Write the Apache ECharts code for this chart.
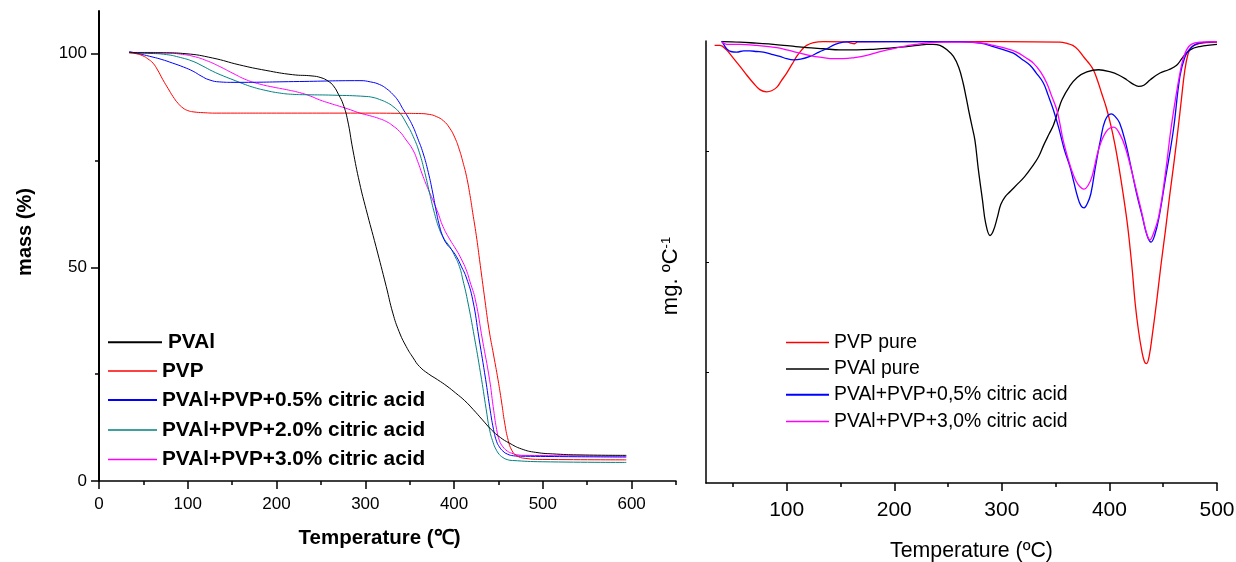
<!DOCTYPE html>
<html><head><meta charset="utf-8">
<script src="https://cdn.jsdelivr.net/npm/echarts@6/dist/echarts.min.js"></script>
<style>html,body{margin:0;padding:0;background:#fff}#c{width:1236px;height:562px}</style>
</head><body><div id="c"></div>
<script>
// ---------- Left panel (TGA) ----------
const tgaNames = ['PVAl', 'PVP', 'PVAl+PVP+0.5% citric acid', 'PVAl+PVP+2.0% citric acid', 'PVAl+PVP+3.0% citric acid'];
const tgaPVAl = [[34,100.2],[55,100.2],[76,100.2],[98,100],[128,99.0],[158,97.4],[188,96.1],[218,95.1],[240,94.8],[250,94.4],[258,93.6],[264,92.5],[270,90.4],[275,88.2],[280,84.5],[286,77.5],[293.6,69.7],[301,63.5],[312,54.9],[323.6,45.5],[331,39.3],[338,35],[346,31.5],[354,28.8],[361,26.8],[371,25.1],[381.5,23.7],[392,22.2],[401.7,20.6],[412,18.8],[421.7,16.7],[432,14.3],[442,12.0],[452,10.2],[462,8.9],[476,7.5],[492,6.7],[515,6.3],[543,6.1],[594,6.0]];
const tgaPVP = [[34,100.3],[42,100],[49.5,99.5],[55,98.8],[60.8,97.8],[66,96.2],[72,93.9],[78,91.8],[83.3,90.0],[89,88.4],[94.6,87.3],[100,86.7],[106,86.4],[118,86.2],[132,86.1],[200,86.1],[300,86.1],[340,86.05],[360,86.0],[372,85.8],[380,85.3],[388,84.3],[395,82.6],[401,80.3],[406,77.5],[410,74.6],[414,71.3],[418,66.8],[421,62.8],[425,57.5],[428.7,51.8],[434,43.5],[439.4,35.4],[444.5,29.5],[449.5,23.7],[453.5,18.5],[457,13.6],[461,9.5],[465,7.2],[470,6],[480,5.3],[500,5.05],[594,4.95]];
const tga05 = [[34,100.5],[45,100],[57,99.4],[70,98.7],[83,97.8],[95,96.9],[106,95.9],[115,94.8],[124,93.9],[136,93.4],[151,93.3],[226,93.5],[294,93.7],[306,93.4],[316,92.8],[324,91.8],[331,90.5],[337,89],[342,87.2],[348,85.2],[353.6,83.0],[359,80.2],[365,76.8],[371,72.2],[376,67.4],[380,63],[383.7,59.6],[387,57.4],[391,55.7],[397,54.2],[402.5,52.6],[408,50.3],[414,47.5],[421,42.4],[428,33.5],[435.6,23.7],[440,17.5],[444.5,12],[448,9.2],[451,8],[455,7],[460,6.3],[467,5.9],[475,5.8],[594,5.6]];
const tga20 = [[34,100.3],[55,100.1],[76,99.8],[92,99.1],[106,98.2],[117,97.1],[128,95.9],[140,94.8],[151,93.9],[162,93],[173,92.2],[188,91.4],[203.5,90.8],[218,90.5],[234,90.4],[263.5,90.3],[301,90.0],[310,89.7],[316,89.3],[324,88.6],[331,87.7],[339,86.1],[346,83.8],[354,80.6],[361,76.8],[367,72.2],[372.4,67.4],[378,62.6],[383.7,58.8],[389,56.6],[395,54.9],[400,53],[406,50.2],[410,47],[415,42.4],[423,33.5],[431,23.7],[436,17],[440,12],[444,9],[447,7.5],[451,6.2],[455,5.5],[460,5],[466,4.8],[500,4.5],[594,4.35]];
const tga30 = [[34,100.3],[55,100.3],[76,100.2],[92,99.9],[106,99.4],[121,98.4],[136,97.0],[151,95.4],[166,93.9],[181,92.9],[196,92.2],[211,91.6],[226,90.9],[238,90.1],[248.5,89.2],[260,88.4],[271,87.7],[283,86.9],[294,86.1],[305,85.5],[316,84.8],[324,84.1],[330,83.3],[338.6,81.8],[346,79.8],[353.6,77.5],[359,74.8],[365,71.3],[371,68.2],[376,65.8],[382,62.7],[387.4,59.6],[395,56.6],[402.5,54.1],[408,52],[413.7,49.4],[418,46.6],[424,42.4],[432,33],[440,23.7],[444,17.5],[448,12],[451,9.5],[455,8],[460,7],[465,6.5],[472,6.1],[480,6.0],[594,5.8]];
const leftXTicks = [0,100,200,300,400,500,600];
const leftXMinor = [50,150,250,350,450,550,650];
const leftYTicks = [0,50,100];
const leftYMinor = [25,75];

// ---------- Right panel (DTG) ----------
const dtgNames = ['PVP pure', 'PVAl pure', 'PVAl+PVP+0,5% citric acid', 'PVAl+PVP+3,0% citric acid'];
const dtgPVP = [[33,-0.04],[38,-0.04],[44,-0.08],[50,-0.15],[56.6,-0.23],[63,-0.31],[69,-0.38],[75,-0.44],[81.4,-0.46],[86,-0.45],[90.7,-0.42],[95,-0.36],[100,-0.29],[105,-0.21],[109.3,-0.14],[114,-0.08],[118.6,-0.04],[125,-0.015],[134,-0.006],[156,-0.008],[160,-0.02],[163,-0.025],[166,-0.008],[200,-0.005],[300,-0.005],[354,-0.01],[360,-0.02],[366,-0.04],[371,-0.08],[375.7,-0.14],[380,-0.19],[385,-0.26],[389,-0.36],[393,-0.48],[397,-0.6],[401,-0.75],[405,-0.93],[409,-1.15],[413,-1.4],[417,-1.68],[421,-2.05],[424,-2.38],[427,-2.62],[430,-2.8],[432.5,-2.9],[434.5,-2.92],[437,-2.85],[440,-2.65],[444,-2.35],[448,-2.02],[452,-1.72],[456,-1.4],[460,-1.1],[464,-0.78],[467,-0.52],[470,-0.27],[473,-0.12],[476,-0.06],[481,-0.03],[490,-0.015],[500,-0.01]];
const dtgPVAl = [[39.6,-0.005],[56.6,-0.01],[72,-0.02],[87.6,-0.03],[103,-0.045],[118.6,-0.06],[134,-0.07],[149.6,-0.08],[165,-0.08],[180.5,-0.075],[196,-0.065],[211.6,-0.05],[222,-0.04],[230,-0.03],[236,-0.03],[242.5,-0.04],[249,-0.08],[255,-0.14],[260,-0.24],[264,-0.38],[267,-0.52],[269,-0.62],[272,-0.76],[275,-0.9],[278,-1.15],[282,-1.44],[285,-1.65],[289,-1.76],[292,-1.72],[296,-1.59],[299,-1.48],[303,-1.41],[308,-1.36],[314,-1.30],[321,-1.23],[328,-1.14],[334,-1.05],[339,-0.94],[344,-0.84],[348,-0.76],[352,-0.64],[356,-0.53],[363,-0.41],[370,-0.33],[379,-0.28],[390,-0.26],[401,-0.28],[409,-0.31],[416,-0.35],[422,-0.39],[427,-0.41],[432,-0.4],[438,-0.35],[447,-0.29],[455,-0.26],[462.5,-0.22],[468,-0.15],[475,-0.08],[484,-0.05],[500,-0.03]];
const dtg05 = [[39.6,0],[42,-0.04],[44.2,-0.07],[48,-0.095],[53.5,-0.1],[60,-0.09],[65.9,-0.09],[72,-0.095],[78.3,-0.1],[86,-0.12],[93.8,-0.14],[100,-0.16],[106.2,-0.17],[113,-0.165],[121.7,-0.14],[130,-0.1],[137.2,-0.07],[145,-0.03],[152.6,-0.01],[160,-0.005],[200,-0.005],[261,-0.005],[280,-0.02],[292,-0.05],[302,-0.08],[310.7,-0.11],[318,-0.16],[326.2,-0.22],[332,-0.29],[338.6,-0.38],[343,-0.49],[347.8,-0.62],[352.7,-0.78],[358,-0.98],[363.4,-1.14],[367,-1.28],[370.4,-1.41],[373.5,-1.49],[376.4,-1.51],[379.5,-1.47],[382.8,-1.38],[387,-1.14],[391.6,-0.9],[396,-0.72],[401.6,-0.66],[405,-0.68],[409.4,-0.74],[415,-0.92],[420,-1.14],[425,-1.37],[430.6,-1.59],[435,-1.76],[438.7,-1.82],[442,-1.76],[446,-1.6],[452,-1.25],[459.4,-0.81],[465.5,-0.32],[470,-0.15],[474,-0.08],[480,-0.03],[490,-0.01],[500,-0.005]];
const dtg30 = [[39.6,-0.01],[44.2,-0.03],[56.6,-0.03],[72.1,-0.04],[90.7,-0.06],[100,-0.08],[112.4,-0.11],[123,-0.135],[134,-0.15],[143,-0.16],[152.6,-0.16],[163,-0.15],[174.4,-0.13],[185,-0.1],[196,-0.075],[208,-0.05],[220.9,-0.03],[233,-0.015],[245.6,-0.01],[270,-0.01],[282,-0.02],[292,-0.04],[303,-0.065],[313.8,-0.1],[322,-0.15],[329.3,-0.2],[336,-0.28],[341.7,-0.38],[346,-0.49],[351,-0.62],[354,-0.75],[357,-0.9],[362,-1.08],[366,-1.2],[371,-1.3],[376.4,-1.34],[380,-1.31],[384,-1.22],[390,-0.98],[397,-0.82],[404,-0.78],[410,-0.85],[415,-0.97],[420,-1.15],[425,-1.35],[430,-1.55],[434,-1.72],[437.6,-1.80],[441,-1.74],[446,-1.58],[452,-1.2],[457,-0.81],[461,-0.55],[465,-0.32],[468,-0.18],[471.7,-0.08],[476,-0.03],[485,-0.01],[500,-0.005]];
const rightXTicks = [100,200,300,400,500];
const rightXMinor = [50,150,250,350,450];
const rightYTicks = [-3,-2,-1];

const FONT = 'Liberation Sans, Arial, Helvetica, sans-serif';
const cRed = '#ff0000', cBlack = '#000000', cBlue = '#0000ff', cTeal = '#008080', cMag = '#ff00ff';

function line(name, data, color, width, xi, yi, sm) {
  return { type: 'line', name, data, xAxisIndex: xi, yAxisIndex: yi, symbol: 'none', showSymbol: false, smooth: sm,
    lineStyle: { color, width }, itemStyle: { color }, silent: true, animation: false };
}
function leg(name, color, left, top, o) {
  return Object.assign({ data: [{ name, itemStyle: { color } }], left, top, orient: 'horizontal', padding: 0, icon: 'rect', itemHeight: 1.5,
    selectedMode: false, textStyle: { fontFamily: FONT, color: '#000' } }, o);
}
const axisLineK = (w) => ({ show: true, onZero: false, lineStyle: { color: '#000', width: w } });
const boldLeg = { fontFamily: FONT, color: '#000', fontSize: 20.8, fontWeight: 'bold' };
const regLeg = { fontFamily: FONT, color: '#000', fontSize: 19.4 };

const option = {
  animation: false,
  grid: [
    { left: 99, right: 560, top: 11, bottom: 81, containLabel: false, outerBoundsMode: 'none' },
    { left: 706, right: 19, top: 41, bottom: 79, containLabel: false, outerBoundsMode: 'none' }
  ],
  xAxis: [
    { gridIndex: 0, type: 'value', position: 'bottom', min: 0, max: 650, axisLine: axisLineK(1.5), splitLine: { show: false },
      axisTick: { show: true, inside: false, length: 8, customValues: leftXTicks, lineStyle: { color: '#000', width: 1.5 } },
      axisLabel: { customValues: leftXTicks, margin: 15, fontSize: 17, color: '#000', fontFamily: FONT },
      name: 'Temperature (\u2103)', nameLocation: 'middle', nameGap: 47,
      nameTextStyle: { fontSize: 20.5, fontWeight: 'bold', color: '#000', fontFamily: FONT, padding: [0, 16, 0, 0] } },
    { gridIndex: 0, type: 'value', position: 'bottom', min: 0, max: 650, axisLine: { show: false, onZero: false }, splitLine: { show: false },
      axisTick: { show: true, length: 4, customValues: leftXMinor, lineStyle: { color: '#000', width: 1.5 } },
      axisLabel: { show: false } },
    { gridIndex: 1, type: 'value', position: 'bottom', min: 25, max: 500, axisLine: axisLineK(1.5), splitLine: { show: false },
      axisTick: { show: true, length: 8, customValues: rightXTicks, lineStyle: { color: '#000', width: 1.5 } },
      axisLabel: { customValues: rightXTicks, margin: 17, fontSize: 21, color: '#000', fontFamily: FONT },
      name: 'Temperature (\u00baC)', nameLocation: 'middle', nameGap: 58,
      nameTextStyle: { fontSize: 21.3, color: '#000', fontFamily: FONT, padding: [0, 0, 0, 20] } },
    { gridIndex: 1, type: 'value', position: 'bottom', min: 25, max: 500, axisLine: { show: false, onZero: false }, splitLine: { show: false },
      axisTick: { show: true, length: 4, customValues: rightXMinor, lineStyle: { color: '#000', width: 1.5 } },
      axisLabel: { show: false } }
  ],
  yAxis: [
    { gridIndex: 0, type: 'value', position: 'left', min: 0, max: 110, axisLine: axisLineK(2), splitLine: { show: false },
      axisTick: { show: true, length: 8, customValues: leftYTicks, lineStyle: { color: '#000', width: 1.5 } },
      axisLabel: { customValues: leftYTicks, margin: 12, fontSize: 17, color: '#000', fontFamily: FONT },
      name: 'mass (%)', nameLocation: 'middle', nameGap: 64,
      nameTextStyle: { fontSize: 20, fontWeight: 'bold', color: '#000', fontFamily: FONT, padding: [0, 0, 0, 28] } },
    { gridIndex: 0, type: 'value', position: 'left', min: 0, max: 110, axisLine: { show: false, onZero: false }, splitLine: { show: false },
      axisTick: { show: true, length: 4, customValues: leftYMinor, lineStyle: { color: '#000', width: 1.5 } },
      axisLabel: { show: false } },
    { gridIndex: 1, type: 'value', position: 'left', min: -4, max: 0, axisLine: axisLineK(1.5), splitLine: { show: false },
      axisTick: { show: true, inside: true, length: 3, customValues: rightYTicks, lineStyle: { color: '#000', width: 1 } },
      axisLabel: { show: false },
      name: '{a|mg. \u00baC}{s|-1}', nameLocation: 'middle', nameGap: 24,
      nameTextStyle: { color: '#000', fontFamily: FONT, padding: [0, 28, 0, 0],
        rich: { a: { fontSize: 22, fontFamily: FONT, color: '#000' },
                s: { fontSize: 13, fontFamily: FONT, color: '#000', verticalAlign: 'top', padding: [0, 0, 7, 0] } } } }
  ],
  legend: [
    leg(tgaNames[0], cBlack, 108, 331.7, { itemWidth: 54, itemHeight: 2, textStyle: Object.assign({}, boldLeg, { padding: [0, 0, 21, 1] }) }),
    leg(tgaNames[1], cRed, 108, 360.5, { itemWidth: 49, textStyle: boldLeg }),
    leg(tgaNames[2], cBlue, 108, 389.5, { itemWidth: 49, itemHeight: 2, textStyle: boldLeg }),
    leg(tgaNames[3], cTeal, 108, 419.5, { itemWidth: 49, textStyle: boldLeg }),
    leg(tgaNames[4], cMag, 108, 449, { itemWidth: 49, textStyle: boldLeg }),
    leg(dtgNames[0], cRed, 786, 333, { itemWidth: 43, textStyle: regLeg }),
    leg(dtgNames[1], cBlack, 786, 359.6, { itemWidth: 43, textStyle: regLeg }),
    leg(dtgNames[2], cBlue, 786, 385.3, { itemWidth: 43, itemHeight: 2, textStyle: regLeg }),
    leg(dtgNames[3], cMag, 786, 412, { itemWidth: 43, textStyle: regLeg })
  ],
  series: [
    line(tgaNames[4], tga30, cMag, 1, 0, 0, 0.5),
    line(tgaNames[3], tga20, cTeal, 1, 0, 0, 0.5),
    line(tgaNames[2], tga05, cBlue, 1, 0, 0, 0.5),
    line(tgaNames[1], tgaPVP, cRed, 1, 0, 0, 0.5),
    line(tgaNames[0], tgaPVAl, cBlack, 1, 0, 0, 0.5),
    line(dtgNames[0], dtgPVP, cRed, 1.3, 2, 2, 0.4),
    line(dtgNames[1], dtgPVAl, cBlack, 1.3, 2, 2, 0.4),
    line(dtgNames[2], dtg05, cBlue, 1.3, 2, 2, 0.4),
    line(dtgNames[3], dtg30, cMag, 1.3, 2, 2, 0.4)
  ]
};
const chart = echarts.init(document.getElementById('c'), null, { renderer: 'canvas' });
chart.setOption(option);
</script></body></html>
